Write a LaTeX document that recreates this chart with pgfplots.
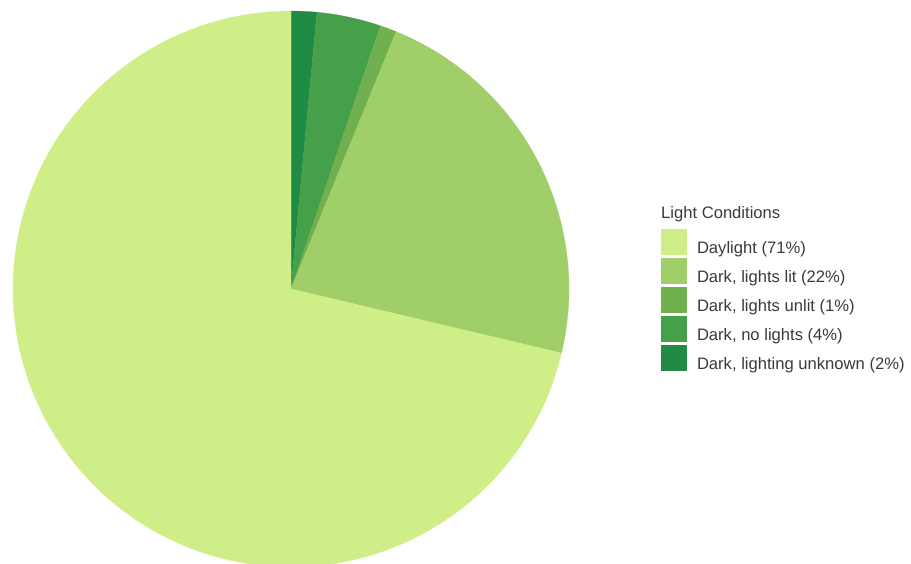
\documentclass[border=0pt]{standalone}
\usepackage{pgfplots}
\pgfplotsset{compat=1.18}
\usepackage{pgfplotstable}
\usepackage{fontspec}
\setmainfont{Liberation Sans}
\definecolor{cDay}{HTML}{D0EE88}
\definecolor{cLit}{HTML}{A0CF6A}
\definecolor{cUnlit}{HTML}{70B04E}
\definecolor{cNo}{HTML}{46A04A}
\definecolor{cUnk}{HTML}{1F8B45}
\definecolor{txt}{HTML}{3A3A3A}

% slices, clockwise from 12 o'clock (percent)
\pgfplotstableread{
label value
unknown 1.49
nolights 3.72
unlit 0.96
lit 22.53
daylight 71.30
}\piedata

\begin{document}
\begin{tikzpicture}
\pgfplotstablegetelem{0}{value}\of\piedata \let\vA\pgfplotsretval
\pgfplotstablegetelem{1}{value}\of\piedata \let\vB\pgfplotsretval
\pgfplotstablegetelem{2}{value}\of\piedata \let\vC\pgfplotsretval
\pgfplotstablegetelem{3}{value}\of\piedata \let\vD\pgfplotsretval
\pgfplotstablegetelem{4}{value}\of\piedata \let\vE\pgfplotsretval
\pgfmathsetmacro{\aA}{90}
\pgfmathsetmacro{\aB}{\aA-3.6*\vA}
\pgfmathsetmacro{\aC}{\aB-3.6*\vB}
\pgfmathsetmacro{\aD}{\aC-3.6*\vC}
\pgfmathsetmacro{\aE}{\aD-3.6*\vD}
\pgfmathsetmacro{\aF}{\aE-3.6*\vE}
\begin{axis}[
  at={(0,0)}, anchor=south west,
  scale only axis, width=911pt, height=564pt,
  xmin=0, xmax=911, ymin=-564, ymax=0,
  hide axis, clip=true,
  legend style={draw=none, fill=none, at={(axis cs:661,-229)}, anchor=north west,
    inner sep=0pt, outer sep=0pt, row sep=3pt, column sep=10pt,
    font=\fontsize{16.6}{19}\selectfont, text=txt,
    nodes={inner sep=0pt, outer sep=0pt}},
  legend cell align=left,
  legend image code/.code={\fill[#1, draw=none] (0pt,-7pt) rectangle (26pt,19pt);},
]
\fill[cUnk, draw=cUnk, line width=0.2pt] (axis cs:291,-289) -- ++(\aA:278pt) arc[start angle=\aA, end angle=\aB, radius=278pt] -- cycle;
\fill[cNo, draw=cNo, line width=0.2pt] (axis cs:291,-289) -- ++(\aB:278pt) arc[start angle=\aB, end angle=\aC, radius=278pt] -- cycle;
\fill[cUnlit, draw=cUnlit, line width=0.2pt] (axis cs:291,-289) -- ++(\aC:278pt) arc[start angle=\aC, end angle=\aD, radius=278pt] -- cycle;
\fill[cLit, draw=cLit, line width=0.2pt] (axis cs:291,-289) -- ++(\aD:278pt) arc[start angle=\aD, end angle=\aE, radius=278pt] -- cycle;
\fill[cDay, draw=cDay, line width=0.2pt] (axis cs:291,-289) -- ++(\aE:278pt) arc[start angle=\aE, end angle=\aF, radius=278pt] -- cycle;
\addlegendimage{fill=cDay, draw=none}
\addlegendentry{Daylight (71\%)}
\addlegendimage{fill=cLit, draw=none}
\addlegendentry{Dark, lights lit (22\%)}
\addlegendimage{fill=cUnlit, draw=none}
\addlegendentry{Dark, lights unlit (1\%)}
\addlegendimage{fill=cNo, draw=none}
\addlegendentry{Dark, no lights (4\%)}
\addlegendimage{fill=cUnk, draw=none}
\addlegendentry{Dark, lighting unknown (2\%)}
\node[anchor=base west, inner sep=0pt, text=txt, font=\fontsize{16.6}{19}\selectfont] at (axis cs:661,-218.3) {Light Conditions};
\end{axis}
\pgfresetboundingbox
\path (0,0) rectangle (911pt,564pt);
\end{tikzpicture}
\end{document}
